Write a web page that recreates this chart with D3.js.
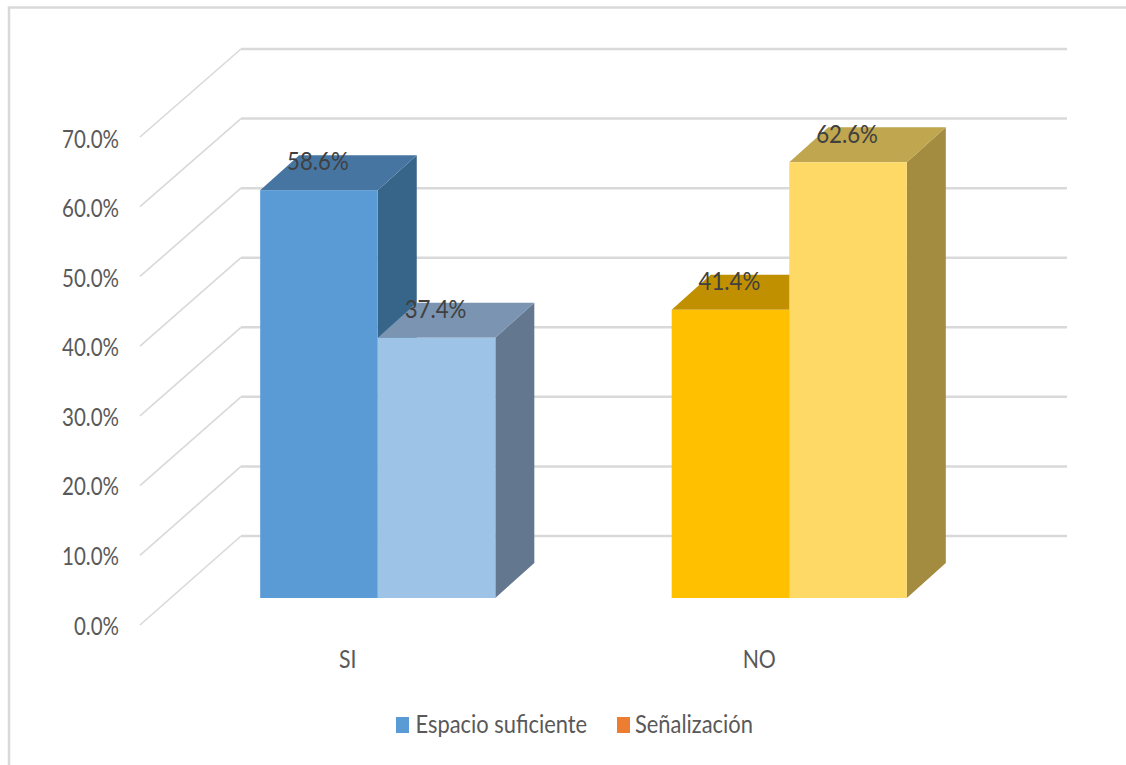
<!DOCTYPE html>
<html>
<head>
<meta charset="utf-8">
<script src="https://cdn.jsdelivr.net/npm/d3@7"></script>
<style>
  html, body { margin: 0; padding: 0; background: #fff; }
  svg { display: block; }
  text { font-family: Lato, "Liberation Sans", sans-serif; }
</style>
</head>
<body>
<svg id="chart" width="1126" height="765"></svg>
<script>
const categories = ["SI", "NO"];
const seriesNames = ["Espacio suficiente", "Señalización"];
const espacioValues = [58.6, 41.4];
const senalizacionValues = [37.4, 62.6];
const tickValues = [0, 10, 20, 30, 40, 50, 60, 70];
const legendColors = ["#5B9BD5", "#ED7D31"];

// Face colours per category, then per series: front, top, side
const faceColors = [
  [["#5B9BD5", "#4775A2", "#376489"], ["#9DC3E6", "#7A94B2", "#63788F"]],
  [["#FFC000", "#C09000", "#A98300"], ["#FFD966", "#BFA64F", "#A38B40"]]
];

const svg = d3.select("#chart");

// Condense text horizontally around its anchor, keeping the glyph height
function condense(selection, factor) {
  selection.each(function () {
    const len = this.getComputedTextLength();
    this.setAttribute("textLength", len * factor);
    this.setAttribute("lengthAdjust", "spacingAndGlyphs");
  });
}

// Outer frame of the chart area: top and left edges only
svg.append("path")
  .attr("d", "M9,765V7.5H1126")
  .attr("fill", "none")
  .attr("stroke", "#d9d9d9")
  .attr("stroke-width", 2.5);

// Oblique projection: the floor and back wall are offset from the front plane
const yFront = d3.scaleLinear().domain([0, 70]).range([625, 137]);
const yBack = d3.scaleLinear().domain([0, 70]).range([536, 49]);
const yBar = d3.scaleLinear().domain([0, 70]).range([598, 110.8]);
const wallLeft = 241, wallRight = 1067, frontLeft = 140;

const grid = svg.append("g").attr("fill", "none").attr("stroke", "#d9d9d9");
grid.selectAll("path.wall").data(tickValues).join("path")
  .attr("class", "wall")
  .attr("stroke-width", 2.5)
  .attr("d", d => `M${wallLeft},${yBack(d)}H${wallRight}`);
grid.selectAll("path.floor").data(tickValues).join("path")
  .attr("class", "floor")
  .attr("stroke-width", 1.6)
  .attr("d", d => `M${frontLeft},${yFront(d)}L${wallLeft},${yBack(d)}`);

// Value axis labels
const yLabel = d3.scaleLinear().domain([0, 70]).range([626, 139]);
const yAxis = svg.append("g")
  .attr("transform", "translate(125,0)")
  .call(d3.axisLeft(yLabel).tickValues(tickValues).tickSize(0).tickPadding(6)
    .tickFormat(d => d3.format(".1f")(d) + "%"));
yAxis.select(".domain").remove();
yAxis.selectAll("text")
  .attr("font-size", 25)
  .attr("fill", "#595959")
  .style("font-family", 'Lato, "Liberation Sans", sans-serif')
  .call(condense, 0.82);

// Category and series positions
const x0 = d3.scaleBand().domain(categories).range([172, 995]);
const x1 = d3.scaleBand().domain(seriesNames).range([0, x0.bandwidth()])
  .paddingInner(0).paddingOuter(0.75);
const depthX = 39, depthY = -35;

const rows = categories.flatMap((c, i) => [
  { cat: c, series: seriesNames[0], value: espacioValues[i], colors: faceColors[i][0] },
  { cat: c, series: seriesNames[1], value: senalizacionValues[i], colors: faceColors[i][1] }
]);

const bars = svg.append("g").selectAll("g").data(rows).join("g");
bars.each(function (d) {
  const g = d3.select(this);
  const l = x0(d.cat) + x1(d.series), r = l + x1.bandwidth();
  const t = yBar(d.value), b = yBar(0);
  // side
  g.append("path")
    .attr("d", `M${r},${t}L${r + depthX},${t + depthY}V${b + depthY}L${r},${b}Z`)
    .attr("fill", d.colors[2]);
  // top
  g.append("path")
    .attr("d", `M${l},${t}L${l + depthX},${t + depthY}H${r + depthX}L${r},${t}Z`)
    .attr("fill", d.colors[1]);
  // front
  g.append("rect")
    .attr("x", l).attr("y", t).attr("width", r - l).attr("height", b - t)
    .attr("fill", d.colors[0]);
});

// Value labels sit on the top face of each bar
svg.append("g").selectAll("text").data(rows).join("text")
  .attr("x", d => x0(d.cat) + x1(d.series) + x1.bandwidth() / 2 - 1)
  .attr("y", d => yBar(d.value) - 28.5)
  .attr("dy", "0.35em")
  .attr("text-anchor", "middle")
  .attr("font-size", 25)
  .attr("fill", "#404040")
  .text(d => d3.format(".1f")(d.value) + "%")
  .call(condense, 0.89);

// Category labels
svg.append("g")
  .attr("transform", "translate(-30,0)")
  .selectAll("text").data(categories).join("text")
  .attr("x", d => x0(d) + x0.bandwidth() / 2)
  .attr("y", 659)
  .attr("dy", "0.35em")
  .attr("text-anchor", "middle")
  .attr("font-size", 25)
  .attr("fill", "#595959")
  .text(d => d)
  .call(condense, 0.85);

// Legend
const legendX = d3.scaleOrdinal().domain(seriesNames).range([396, 617]);
const legendTextX = d3.scaleOrdinal().domain(seriesNames).range([415.5, 635]);
const legend = svg.append("g").selectAll("g").data(seriesNames).join("g");
legend.append("rect")
  .attr("x", d => legendX(d)).attr("y", 717).attr("width", 13).attr("height", 16)
  .attr("fill", (d, i) => legendColors[i]);
legend.append("text")
  .attr("x", d => legendTextX(d))
  .attr("y", 724.5)
  .attr("dy", "0.35em")
  .attr("font-size", 25)
  .attr("fill", "#595959")
  .text(d => d)
  .call(condense, 0.875);
</script>
</body>
</html>
